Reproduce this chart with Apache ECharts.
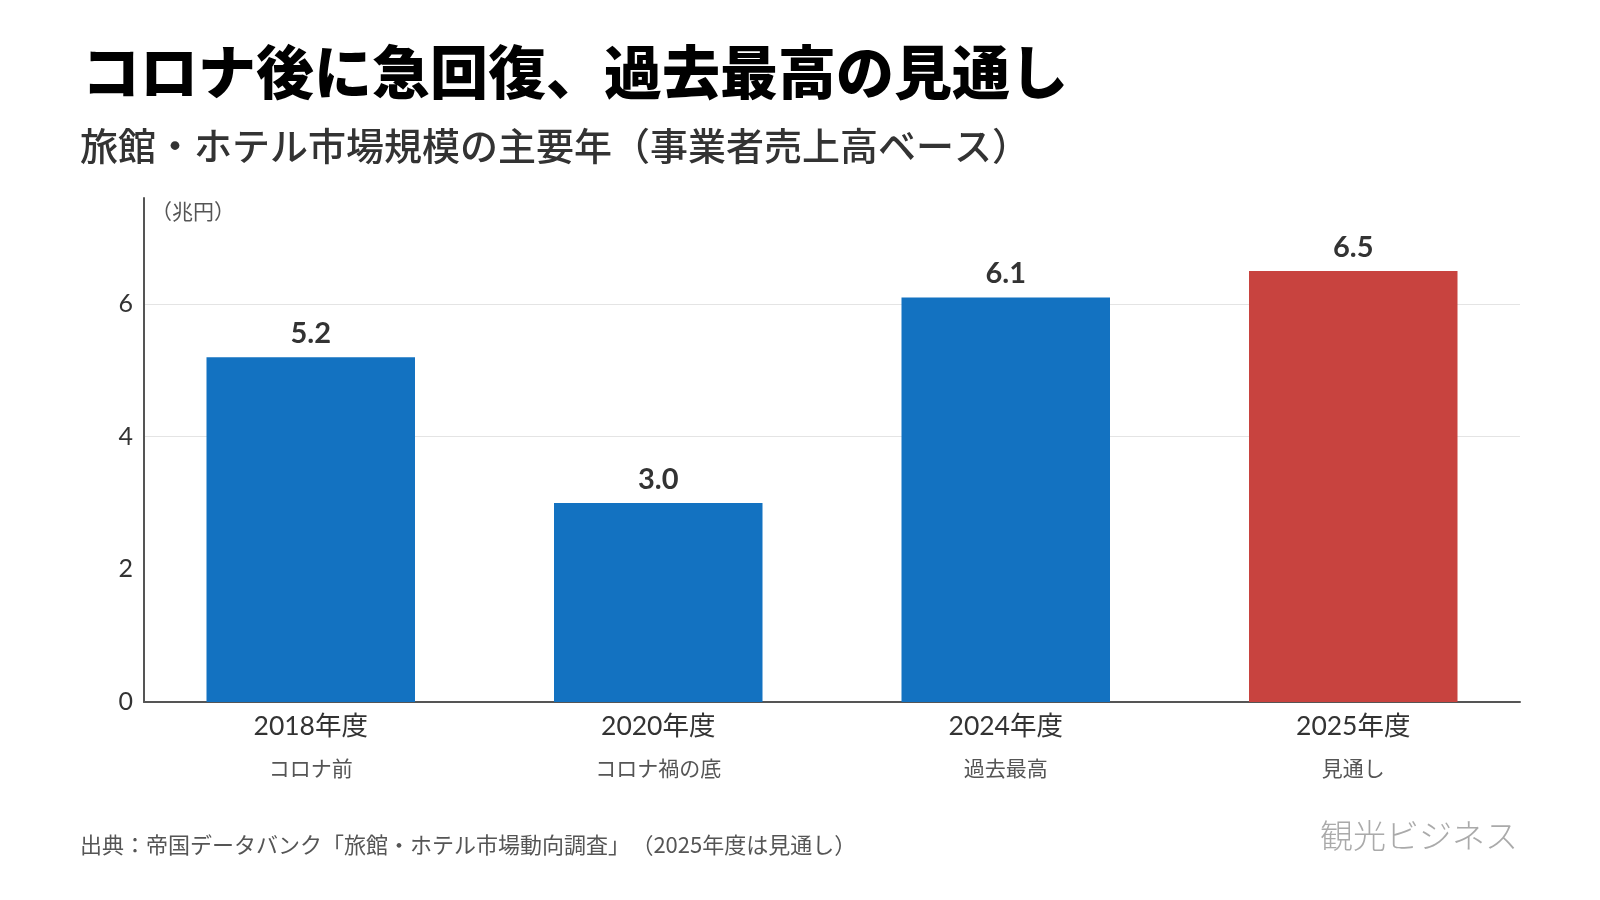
<!DOCTYPE html>
<html>
<head>
<meta charset="utf-8">
<script src="https://cdn.jsdelivr.net/npm/echarts@6/dist/echarts.min.js"></script>
<style>
  html, body { margin: 0; padding: 0; background: #fff; text-spacing-trim: space-all; }
  #chart { width: 1600px; height: 900px; text-spacing-trim: space-all; }
</style>
</head>
<body>
<div id="chart"></div>
<script>
// data
const categories = ['2018年度', '2020年度', '2024年度', '2025年度'];
const notes = ['コロナ前', 'コロナ禍の底', '過去最高', '見通し'];
const values = [5.2, 3.0, 6.1, 6.5];
const forecastIndex = 3;
const yMax = 7.6;
const yStep = 2;

const FONT_JP = '"Noto Sans CJK JP", sans-serif';
const FONT_NUM = 'Lato, "Noto Sans CJK JP", sans-serif';

const chart = echarts.init(document.getElementById('chart'), null, { renderer: 'canvas' });

const barData = values.map((v, i) => ({
    value: v,
    itemStyle: { color: i === forecastIndex ? '#c8433f' : '#1372c1' }
}));

const option = {
    backgroundColor: '#fff',
    animation: false,
    grid: [
        // bars
        { left: 137, right: 73, top: 198, bottom: 198 },
        // axes
        { left: 144, right: 80, top: 198, bottom: 198 }
    ],
    xAxis: [
        {
            type: 'category',
            gridIndex: 0,
            data: categories,
            axisLine: { show: false },
            axisTick: { show: false },
            axisLabel: {
                margin: 8,
                formatter: (v, i) => '{a|' + v + '}\n{b|' + notes[i] + '}',
                rich: {
                    a: { fontFamily: FONT_NUM, fontSize: 26.5, color: '#333', lineHeight: 32 },
                    b: { fontFamily: FONT_JP, fontSize: 21, color: '#555', lineHeight: 52 }
                }
            }
        },
        {
            type: 'category',
            gridIndex: 1,
            data: categories,
            axisLine: { show: true, lineStyle: { color: '#555', width: 2 } },
            axisTick: { show: false },
            axisLabel: { show: false }
        }
    ],
    yAxis: [
        { type: 'value', gridIndex: 0, min: 0, max: yMax, show: false },
        {
            type: 'value',
            gridIndex: 1,
            min: 0,
            max: yMax,
            interval: yStep,
            axisLine: { show: true, lineStyle: { color: '#555', width: 2 } },
            axisTick: { show: false },
            axisLabel: {
                showMaxLabel: false,
                margin: 11,
                fontFamily: FONT_NUM,
                fontSize: 25,
                color: '#333'
            },
            splitLine: {
                show: true,
                showMinLine: false,
                showMaxLine: false,
                lineStyle: { color: ['none', '#e4e4e4', '#e4e4e4', '#e4e4e4', 'none'], width: 1 }
            }
        }
    ],
    series: [{
        type: 'bar',
        xAxisIndex: 0,
        yAxisIndex: 0,
        data: barData,
        barCategoryGap: '40%',
        label: {
            show: true,
            position: 'top',
            distance: 9,
            formatter: p => p.value.toFixed(1),
            fontFamily: FONT_NUM,
            fontWeight: 'bold',
            fontSize: 29,
            color: '#333'
        }
    }],
    graphic: [
        {
            type: 'text', left: 82, top: 43,
            style: {
                text: 'コロナ後に急回復、過去最高の見通し',
                fontFamily: FONT_JP, fontWeight: 900, fontSize: 58, fill: '#000'
            }
        },
        {
            type: 'text', left: 80, top: 127,
            style: {
                text: '旅館・ホテル市場規模の主要年（事業者売上高ベース）',
                fontFamily: FONT_JP, fontWeight: 500, fontSize: 38, fill: '#333'
            }
        },
        {
            type: 'text', left: 151, top: 201,
            style: {
                text: '（兆円）',
                fontFamily: FONT_JP, fontSize: 21, fill: '#555'
            }
        },
        {
            type: 'text', left: 80, top: 834,
            style: {
                text: '出典：帝国データバンク「旅館・ホテル市場動向調査」\u200A（2025年度は見通し）',
                fontFamily: FONT_JP, fontSize: 22, fill: '#555'
            }
        },
        {
            type: 'text', right: 82, top: 819,
            style: {
                text: '観光ビジネス',
                fontFamily: FONT_JP, fontWeight: 300, fontSize: 33, fill: '#aaa'
            }
        }
    ]
};

chart.setOption(option);
</script>
</body>
</html>
